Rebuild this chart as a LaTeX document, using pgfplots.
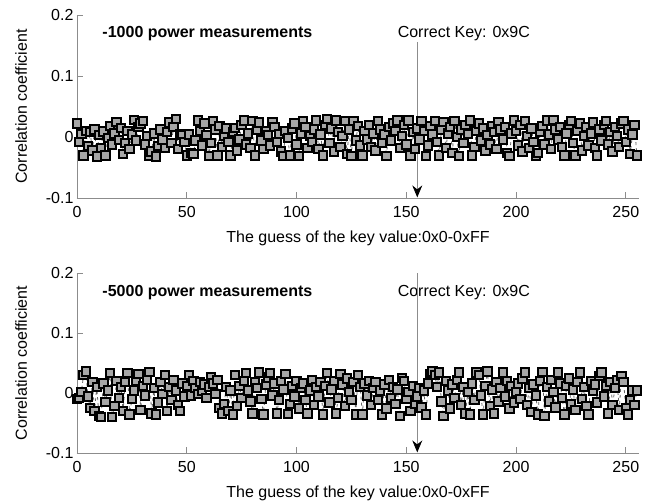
\documentclass[border=0pt]{standalone}
\usepackage{fontspec}
\setmainfont{Liberation Sans}
\usepackage{pgfplots}
\pgfplotsset{compat=1.18}
\usetikzlibrary{arrows.meta}

\pgfplotsset{
  keyplot/.style={
    scale only axis, width=562pt,
    xmin=0, xmax=256, ymin=-0.1, ymax=0.2,
    xtick={0,50,...,250}, ytick={-0.1,0,0.1,0.2},
    axis x line*=bottom, axis y line*=left,
    axis line style={black!45, line width=0.8pt, -},
    tick style={black!45, line width=0.8pt},
    tick align=inside, major tick length=6pt,
    every tick label/.append style={font=\fontsize{16}{19}\selectfont},
    label style={font=\fontsize{16}{19}\selectfont},
    /pgf/number format/assume math mode=true,
    xlabel={The guess of the key value:0x0-0xFF},
    ylabel={Correlation coefficient},
    xticklabel shift=5pt, xlabel shift=6pt, ylabel shift=12pt,
    clip=false,
  },
  keydata/.style={black!60, dashed, line width=0.8pt,
    mark=square*, mark size=4.2pt,
    mark options={solid, draw=black, fill=black!35, line width=2pt}},
}

\begin{document}
\begin{tikzpicture}
\path (-77pt,15pt) rectangle (576pt,-486pt);

% 1000 traces
\begin{axis}[keyplot, height=183pt, at={(0,0)}, anchor=north west]
\addplot[keydata] coordinates {
(0,0.022)(1,-0.008)(2,0.005)(3,-0.030)(4,0.010)(5,-0.015)(6,0.008)(7,-0.022)(8,0.012)(9,-0.032)
(10,0.003)(11,-0.018)(12,0.009)(13,-0.030)(14,-0.002)(15,0.018)(16,-0.012)(17,0.006)(18,0.025)(19,-0.005)
(20,0.015)(21,-0.028)(22,-0.010)(23,0.010)(24,-0.020)(25,0.004)(26,0.028)(27,-0.006)(28,0.016)(29,0.022)
(30,0.026)(31,-0.012)(32,0.002)(33,-0.030)(34,-0.024)(35,0.006)(36,-0.032)(37,-0.015)(38,0.012)(39,-0.004)
(40,-0.018)(41,0.008)(42,0.024)(43,-0.010)(44,0.016)(45,0.030)(46,-0.020)(47,0.005)(48,0.003)(49,-0.008)
(50,-0.030)(51,0.004)(52,-0.026)(53,-0.028)(54,-0.006)(55,0.027)(56,0.010)(57,-0.014)(58,0.022)(59,0.003)
(60,-0.031)(61,-0.010)(62,0.026)(63,0.012)(64,-0.030)(65,0.018)(66,-0.016)(67,0.002)(68,0.014)(69,-0.008)
(70,-0.030)(71,0.008)(72,0.015)(73,-0.022)(74,-0.004)(75,0.020)(76,0.027)(77,-0.012)(78,0.006)(79,-0.018)
(80,0.026)(81,-0.030)(82,0.012)(83,0.024)(84,-0.006)(85,-0.020)(86,0.010)(87,0.003)(88,-0.014)(89,0.025)
(90,0.016)(91,-0.008)(92,0.005)(93,-0.024)(94,-0.031)(95,0.010)(96,-0.002)(97,-0.030)(98,0.014)(99,0.022)
(100,-0.012)(101,-0.031)(102,0.006)(103,0.026)(104,0.016)(105,-0.018)(106,0.002)(107,-0.008)(108,0.012)(109,0.027)
(110,-0.020)(111,0.004)(112,-0.030)(113,0.020)(114,0.030)(115,-0.010)(116,0.014)(117,-0.024)(118,0.027)(119,0.008)
(120,-0.016)(121,0.002)(122,0.026)(123,-0.028)(124,0.012)(125,-0.031)(126,0.026)(127,-0.006)(128,0.018)(129,-0.014)
(130,-0.030)(131,0.010)(132,-0.004)(133,0.020)(134,-0.016)(135,0.006)(136,-0.022)(137,0.026)(138,0.012)(139,-0.010)
(140,0.004)(141,-0.031)(142,0.016)(143,-0.006)(144,0.022)(145,0.010)(146,0.027)(147,-0.018)(148,0.002)(149,0.020)
(150,-0.012)(151,0.027)(152,-0.030)(153,0.008)(154,-0.020)(155,0.014)(156,-0.004)(157,0.026)(158,0.010)(159,-0.031)
(160,-0.014)(161,0.018)(162,0.004)(163,0.026)(164,-0.008)(165,-0.030)(166,0.012)(167,0.025)(168,-0.018)(169,0.006)
(170,0.016)(171,-0.026)(172,0.026)(173,0.000)(174,-0.031)(175,0.012)(176,-0.010)(177,0.020)(178,0.005)(179,0.027)
(180,-0.030)(181,-0.016)(182,0.010)(183,0.022)(184,-0.006)(185,0.014)(186,-0.022)(187,0.003)(188,-0.012)(189,0.018)
(190,0.008)(191,-0.020)(192,0.025)(193,0.012)(194,-0.004)(195,0.016)(196,-0.026)(197,-0.031)(198,0.006)(199,0.027)
(200,0.010)(201,-0.014)(202,0.020)(203,-0.024)(204,0.026)(205,0.002)(206,-0.018)(207,0.014)(208,-0.008)(209,-0.031)
(210,-0.026)(211,0.008)(212,0.018)(213,-0.012)(214,0.027)(215,0.004)(216,-0.020)(217,0.028)(218,0.012)(219,-0.004)
(220,0.016)(221,-0.016)(222,-0.030)(223,0.006)(224,0.020)(225,0.026)(226,-0.010)(227,-0.030)(228,0.010)(229,0.022)
(230,-0.022)(231,0.002)(232,0.016)(233,-0.014)(234,0.006)(235,0.024)(236,-0.018)(237,-0.030)(238,0.012)(239,-0.006)
(240,0.020)(241,0.026)(242,-0.012)(243,0.008)(244,-0.024)(245,0.016)(246,0.002)(247,-0.016)(248,0.022)(249,0.026)
(250,-0.008)(251,0.012)(252,-0.028)(253,0.004)(254,0.020)(255,-0.030)
};
\node[anchor=west, font=\bfseries\fontsize{16}{19}\selectfont] at (axis cs:10,0.17) {-1000 power measurements};
\node[anchor=west, font=\fontsize{16}{19}\selectfont] at (axis cs:144.5,0.17) {Correct Key: 0x9C};
\draw[black!45, line width=0.8pt, -{Stealth[black, length=12pt, width=10pt, inset=4pt]}]
  (axis cs:155,0.156) -- (axis cs:155,-0.099);
\end{axis}

% 5000 traces
\begin{axis}[keyplot, height=180pt, at={(0,-258pt)}, anchor=north west]
\addplot[keydata] coordinates {
(0,-0.010)(1,-0.008)(2,0.002)(3,0.030)(4,0.036)(5,-0.006)(6,-0.025)(7,0.018)(8,-0.030)(9,0.010)
(10,-0.038)(11,-0.040)(12,0.016)(13,-0.015)(14,0.004)(15,0.033)(16,-0.040)(17,-0.022)(18,0.020)(19,-0.008)
(20,0.010)(21,-0.030)(22,0.018)(23,0.033)(24,-0.036)(25,-0.010)(26,0.004)(27,0.020)(28,0.032)(29,-0.028)
(30,0.012)(31,-0.004)(32,0.022)(33,0.035)(34,-0.034)(35,0.008)(36,-0.036)(37,-0.016)(38,0.018)(39,-0.002)
(40,0.030)(41,-0.030)(42,0.010)(43,-0.012)(44,0.022)(45,0.004)(46,-0.020)(47,-0.030)(48,0.016)(49,-0.006)
(50,0.012)(51,0.030)(52,-0.004)(53,0.020)(54,0.008)(55,-0.002)(56,0.018)(57,0.004)(58,0.014)(59,-0.008)
(60,0.010)(61,0.026)(62,0.016)(63,-0.002)(64,0.022)(65,-0.025)(66,-0.034)(67,-0.018)(68,0.010)(69,-0.030)
(70,0.004)(71,-0.036)(72,0.030)(73,-0.022)(74,0.012)(75,-0.008)(76,0.020)(77,0.033)(78,0.004)(79,-0.014)
(80,-0.034)(81,0.018)(82,0.008)(83,0.034)(84,-0.010)(85,-0.036)(86,0.014)(87,0.026)(88,0.033)(89,-0.004)
(90,0.016)(91,-0.034)(92,-0.012)(93,0.020)(94,0.006)(95,0.032)(96,-0.035)(97,-0.018)(98,0.012)(99,-0.006)
(100,0.020)(101,-0.026)(102,0.008)(103,0.016)(104,-0.012)(105,-0.034)(106,0.004)(107,0.022)(108,-0.020)(109,0.010)
(110,-0.006)(111,0.018)(112,-0.036)(113,0.012)(114,0.033)(115,-0.016)(116,0.006)(117,0.020)(118,-0.034)(119,-0.008)
(120,0.032)(121,0.014)(122,-0.022)(123,0.024)(124,0.002)(125,-0.012)(126,0.018)(127,-0.036)(128,0.030)(129,0.010)
(130,-0.036)(131,0.016)(132,-0.004)(133,0.020)(134,-0.020)(135,0.008)(136,0.018)(137,-0.012)(138,0.004)(139,-0.036)
(140,0.014)(141,-0.026)(142,0.022)(143,-0.008)(144,0.010)(145,-0.018)(146,0.006)(147,-0.038)(148,0.025)(149,0.020)
(150,-0.010)(151,0.002)(152,-0.030)(153,0.012)(154,-0.018)(155,-0.006)(156,0.008)(157,-0.024)(158,0.004)(159,-0.036)
(160,0.016)(161,0.032)(162,0.036)(163,0.030)(164,0.010)(165,0.034)(166,-0.014)(167,-0.038)(168,0.020)(169,0.004)
(170,-0.026)(171,0.014)(172,-0.008)(173,0.022)(174,0.034)(175,-0.020)(176,0.010)(177,-0.034)(178,0.002)(179,-0.036)
(180,0.016)(181,-0.012)(182,0.034)(183,0.030)(184,-0.004)(185,-0.036)(186,0.012)(187,0.036)(188,-0.022)(189,0.006)
(190,-0.034)(191,0.018)(192,-0.014)(193,0.008)(194,0.034)(195,-0.006)(196,0.020)(197,-0.026)(198,0.012)(199,-0.016)
(200,0.002)(201,0.016)(202,-0.010)(203,0.024)(204,0.034)(205,-0.020)(206,0.008)(207,-0.032)(208,0.014)(209,-0.004)
(210,-0.036)(211,0.020)(212,0.035)(213,-0.038)(214,0.010)(215,-0.014)(216,0.022)(217,0.002)(218,-0.024)(219,0.034)
(220,0.016)(221,-0.008)(222,-0.036)(223,0.012)(224,0.024)(225,-0.018)(226,0.006)(227,-0.028)(228,0.018)(229,0.034)
(230,-0.010)(231,0.010)(232,-0.022)(233,-0.036)(234,0.020)(235,0.004)(236,0.014)(237,-0.016)(238,0.028)(239,0.034)
(240,-0.006)(241,0.012)(242,-0.034)(243,0.018)(244,-0.020)(245,0.008)(246,0.022)(247,-0.028)(248,0.028)(249,0.018)
(250,-0.026)(251,-0.036)(252,-0.012)(253,0.004)(254,-0.020)(255,0.004)
};
\node[anchor=west, font=\bfseries\fontsize{16}{19}\selectfont] at (axis cs:10,0.167) {-5000 power measurements};
\node[anchor=west, font=\fontsize{16}{19}\selectfont] at (axis cs:144.5,0.167) {Correct Key: 0x9C};
\draw[black!45, line width=0.8pt, -{Stealth[black, length=12pt, width=10pt, inset=4pt]}]
  (axis cs:155,0.2) -- (axis cs:155,-0.099);
\end{axis}
\end{tikzpicture}
\end{document}
